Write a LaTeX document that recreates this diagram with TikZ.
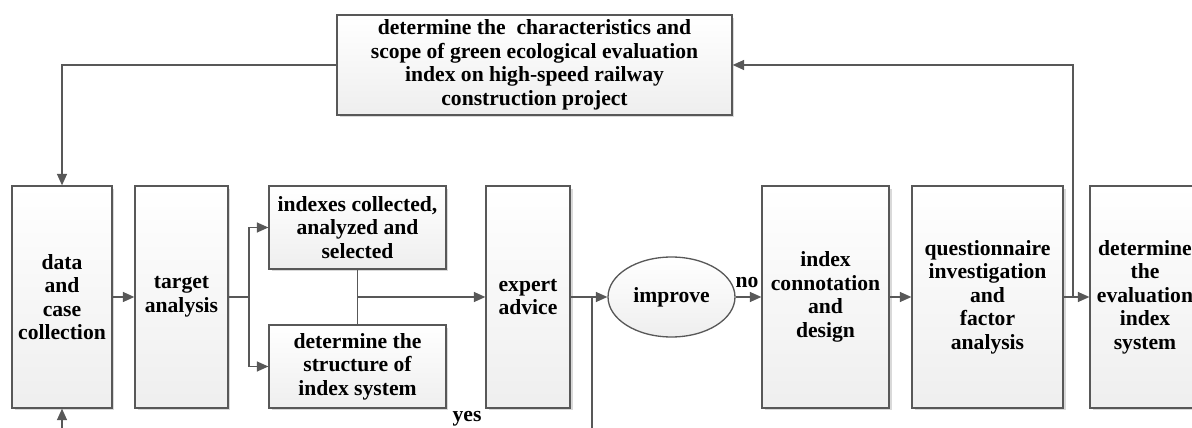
\documentclass[tikz,border=0pt]{standalone}
\usepackage{fontspec}
\setmainfont{Liberation Serif}
\usepackage{tikz}
\usetikzlibrary{arrows.meta,shapes.geometric,shadows}

\definecolor{edgegray}{RGB}{88,88,88}

\begin{document}
\begin{tikzpicture}[x=0.02cm, y=-0.02cm, >={Triangle[length=2.3mm, width=2mm]}]

% Styles
\tikzset{
  stage/.style={draw=edgegray, line width=0.75pt, top color=white, bottom color=gray!13,
    drop shadow={shadow xshift=0.05cm, shadow yshift=-0.05cm, fill=gray!30, opacity=1},
    align=center, inner sep=1pt, font=\fontsize{12.3}{13.4}\selectfont\bfseries},
  tall/.style={stage, minimum height=4.44cm},
  check/.style={ellipse, draw=edgegray, line width=0.75pt, top color=white, bottom color=gray!13,
    minimum width=2.54cm, minimum height=1.6cm, inner sep=0pt,
    font=\fontsize{12.3}{13.4}\selectfont\bfseries},
  flow/.style={draw=edgegray, line width=0.75pt},
  tag/.style={font=\fontsize{12.3}{13}\selectfont\bfseries, inner sep=0pt}
}

\useasboundingbox (0,0) rectangle (1192,428);

% Nodes
\node[stage, minimum width=7.9cm, minimum height=2cm] (scope) at (534.5,65)
  {determine the\ \ characteristics and\\scope of green ecological evaluation\\index on high-speed railway\\construction project};
\node[tall, minimum width=2cm] (data) at (62,297) {data\\and\\case\\collection};
\node[tall, minimum width=1.86cm] (target) at (181.5,297) {target\\analysis};
\node[stage, minimum width=3.54cm, minimum height=1.66cm] (collect) at (357.5,227.5)
  {indexes collected,\\analyzed and\\selected};
\node[stage, minimum width=3.54cm, minimum height=1.66cm] (struct) at (357.5,366.5)
  {determine the\\structure of\\index system};
\node[tall, minimum width=1.68cm] (expert) at (528,297) {expert\\advice};
\node[check] (improve) at (671.5,297) {improve};
\node[tall, minimum width=2.54cm] (design) at (825.5,297) {index\\connotation\\and\\design};
\node[tall, minimum width=3.02cm] (survey) at (987.5,297) {questionnaire\\investigation\\and\\factor\\analysis};
\node[tall, minimum width=2.2cm] (result) at (1145,297) {determine\\the\\evaluation\\index\\system};

% Coordinates
\coordinate (split) at (249,297);
\coordinate (join) at (357.5,297);
\coordinate (fork) at (592,297);
\coordinate (back) at (1073,297);
\coordinate (low) at (592,445);

% Connectors
\draw[flow, ->] (data) -- (target);
\draw[flow] (target) -- (split);
\draw[flow, ->] (split) |- (collect);
\draw[flow, ->] (split) |- (struct);
\draw[flow] (collect) -- (struct);
\draw[flow, ->] (join) -- (expert);
\draw[flow] (expert) -- (fork);
\draw[flow, ->] (fork) -- (improve);
\draw[flow, ->] (fork) -- (low) -| (data.south);
\draw[flow, ->] (improve) -- (design);
\draw[flow, ->] (design) -- (survey);
\draw[flow, ->] (survey) -- (result);
\draw[flow, ->] (back) |- (scope.east);
\draw[flow, ->] (scope.west) -| (data.north);

% Labels
\node[tag] (yes) at (467,419) {yes};
\node[tag] (no) at (747,283) {no};

\end{tikzpicture}
\end{document}
